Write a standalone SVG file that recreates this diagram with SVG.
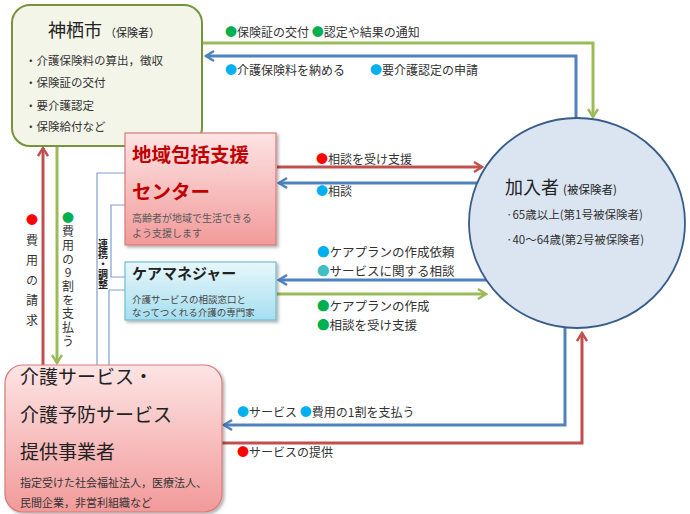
<svg xmlns="http://www.w3.org/2000/svg" width="690" height="514" viewBox="0 0 690 514">
<defs>
<style>
text{font-family:"Noto Sans CJK JP","Noto Sans",sans-serif;fill:#333;}
.lbl{font-size:12px;}
.sm{font-size:11.5px;}
.vt{font-size:12px;writing-mode:vertical-rl;text-orientation:upright;}
.g{fill:#00b050;}
.b{fill:#00b0f0;}
.t{fill:#3fbfc4;}
.r{fill:#ff0000;}
.ln{fill:none;stroke-width:3;}
.lg{stroke:#9bbb59;}
.lb{stroke:#4f81bd;}
.lr{stroke:#c0504d;}
.thin{fill:none;stroke:#7f9fcf;stroke-width:1.2;}
</style>
<marker id="ag" viewBox="0 0 12 12" refX="10" refY="6" markerWidth="12" markerHeight="12" markerUnits="userSpaceOnUse" orient="auto"><path d="M2,1 L10,6 L2,11" fill="none" stroke="#9bbb59" stroke-width="2.4"/></marker>
<marker id="ab" viewBox="0 0 12 12" refX="10" refY="6" markerWidth="12" markerHeight="12" markerUnits="userSpaceOnUse" orient="auto"><path d="M2,1 L10,6 L2,11" fill="none" stroke="#4f81bd" stroke-width="2.4"/></marker>
<marker id="ar" viewBox="0 0 12 12" refX="10" refY="6" markerWidth="12" markerHeight="12" markerUnits="userSpaceOnUse" orient="auto"><path d="M2,1 L10,6 L2,11" fill="none" stroke="#c0504d" stroke-width="2.4"/></marker>
<linearGradient id="pink" x1="0" y1="0" x2="0" y2="1"><stop offset="0" stop-color="#fde4e4"/><stop offset="1" stop-color="#f29a9a"/></linearGradient>
<linearGradient id="cyan" x1="0" y1="0" x2="0" y2="1"><stop offset="0" stop-color="#e8f7fb"/><stop offset="1" stop-color="#a6def0"/></linearGradient>
<filter id="sh" x="-10%" y="-10%" width="125%" height="125%"><feDropShadow dx="2" dy="2" stdDeviation="1.5" flood-color="#000" flood-opacity="0.3"/></filter>
</defs>
<rect width="690" height="514" fill="#fff"/>

<g id="connectors">
<polyline class="ln lg" points="202,43 593,43 593,117" marker-end="url(#ag)"/>
<polyline class="ln lb" points="576,119 576,56 206,56" marker-end="url(#ab)"/>
<line class="ln lr" x1="277" y1="167" x2="482" y2="167" marker-end="url(#ar)"/>
<line class="ln lb" x1="482" y1="183" x2="279" y2="183" marker-end="url(#ab)"/>
<line class="ln lb" x1="487" y1="280" x2="279" y2="280" marker-end="url(#ab)"/>
<line class="ln lg" x1="277" y1="294" x2="486" y2="294" marker-end="url(#ag)"/>
<polyline class="ln lb" points="565,328 565,425 224,425" marker-end="url(#ab)"/>
<polyline class="ln lr" points="222,443 582,443 582,333" marker-end="url(#ar)"/>
<line class="ln lr" x1="43" y1="365" x2="43" y2="148" marker-end="url(#ar)"/>
<line class="ln lg" x1="57" y1="146" x2="57" y2="363" marker-end="url(#ag)"/>
<polyline class="thin" points="125,173 97,173 97,365"/>
<polyline class="thin" points="125,205 111,205 111,277 125,277"/>
<polyline class="thin" points="125,290 109,290 109,365"/>

<text class="lbl" x="225" y="37"><tspan class="g">●</tspan>保険証の交付 <tspan class="g">●</tspan>認定や結果の通知</text>
<text class="lbl" x="225" y="75"><tspan class="b">●</tspan>介護保険料を納める</text>
<text class="lbl" x="370" y="75"><tspan class="b">●</tspan>要介護認定の申請</text>
<text class="lbl" x="316" y="164"><tspan class="r">●</tspan>相談を受け支援</text>
<text class="lbl" x="316" y="196"><tspan class="b">●</tspan>相談</text>
<text class="lbl" x="317" y="257" style="font-size:12.5px"><tspan class="b">●</tspan>ケアプランの作成依頼</text>
<text class="lbl" x="317" y="276" style="font-size:12.5px"><tspan class="t">●</tspan>サービスに関する相談</text>
<text class="lbl" x="317" y="311" style="font-size:12.5px"><tspan class="g">●</tspan>ケアプランの作成</text>
<text class="lbl" x="317" y="330" style="font-size:12.5px"><tspan class="g">●</tspan>相談を受け支援</text>
<text class="lbl" x="237" y="417"><tspan class="b">●</tspan>サービス <tspan class="b">●</tspan>費用の1割を支払う</text>
<text class="lbl" x="237" y="457"><tspan class="r">●</tspan>サービスの提供</text>
<text class="vt" x="32" y="214" style="letter-spacing:8px"><tspan class="r">●</tspan>費用の請求</text>
<text class="vt" x="68" y="212" style="letter-spacing:1.7px"><tspan class="g">●</tspan>費用の9割を支払う</text>
<text class="vt" x="103" y="239" style="font-size:10px;font-weight:bold;fill:#222">連携・調整</text>
</g>

<g id="kamisu">
<rect x="12" y="5" width="190" height="141" rx="18" fill="#f3f5e9" stroke="#77933c" stroke-width="2"/>
<text x="48" y="37" style="font-size:18px;fill:#222">神栖市<tspan style="font-size:11px" dx="3">（保険者）</tspan></text>
<text class="sm" x="25" y="65">・介護保険料の算出，徴収</text>
<text class="sm" x="25" y="87">・保険証の交付</text>
<text class="sm" x="25" y="110">・要介護認定</text>
<text class="sm" x="25" y="131">・保険給付など</text>
</g>

<g id="center">
<rect x="125" y="133" width="151" height="112" fill="url(#pink)" stroke="#d77a78" stroke-width="1.2" filter="url(#sh)"/>
<text x="132" y="162" style="font-size:19.5px;font-weight:bold;fill:#c00000">地域包括支援</text>
<text x="132" y="199" style="font-size:19.5px;font-weight:bold;fill:#c00000">センター</text>
<text x="132" y="222" style="font-size:10px;fill:#595959">高齢者が地域で生活できる</text>
<text x="132" y="237" style="font-size:10px;fill:#595959">よう支援します</text>
</g>

<g id="caremanager">
<rect x="125" y="262" width="151" height="58" fill="url(#cyan)" stroke="#6fbcd2" stroke-width="1.2" filter="url(#sh)"/>
<text x="132" y="279" style="font-size:15px;font-weight:bold;fill:#222">ケアマネジャー</text>
<text x="132" y="303" style="font-size:9.5px;fill:#444">介護サービスの相談窓口と</text>
<text x="132" y="316" style="font-size:9.5px;fill:#444">なってつくれる介護の専門家</text>
</g>

<g id="provider">
<rect x="5" y="365" width="217" height="147" rx="18" fill="url(#pink)" stroke="#d77a78" stroke-width="1.2" filter="url(#sh)"/>
<text x="20" y="384" style="font-size:19px;fill:#222">介護サービス・</text>
<text x="20" y="422" style="font-size:19px;fill:#222">介護予防サービス</text>
<text x="20" y="459" style="font-size:19px;fill:#222">提供事業者</text>
<text x="20" y="487" style="font-size:11px;fill:#333">指定受けた社会福祉法人，医療法人、</text>
<text x="20" y="507" style="font-size:11px;fill:#333">民間企業，非営利組織など</text>
</g>

<g id="member">
<ellipse cx="577" cy="223" rx="108" ry="105" fill="#dbe5f1" stroke="#385d8a" stroke-width="1.8"/>
<text x="505" y="194" style="font-size:18px;fill:#222">加入者<tspan style="font-size:11.5px" dx="4">(被保険者)</tspan></text>
<text x="506" y="219" style="font-size:11.5px">·65歳以上(第1号被保険者)</text>
<text x="506" y="244" style="font-size:11.5px">·40～64歳(第2号被保険者)</text>
</g>
</svg>
